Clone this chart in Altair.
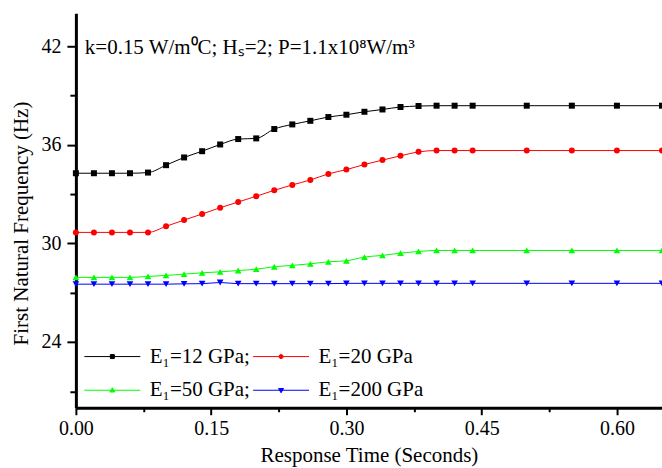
import altair as alt
import pandas as pd

# Response time (s)
times = [0.00, 0.02, 0.04, 0.06, 0.08, 0.10, 0.12, 0.14, 0.16, 0.18, 0.20, 0.22,
         0.24, 0.26, 0.28, 0.30, 0.32, 0.34, 0.36, 0.38, 0.40, 0.42, 0.44,
         0.50, 0.55, 0.60, 0.65]

freq_12 = [34.27, 34.27, 34.27, 34.27, 34.31, 34.76, 35.23, 35.61, 36.02, 36.35, 36.39, 36.96,
           37.24, 37.46, 37.69, 37.83, 38.01, 38.15, 38.30, 38.36, 38.38, 38.38, 38.38,
           38.38, 38.38, 38.38, 38.38]
freq_20 = [30.67, 30.67, 30.67, 30.67, 30.67, 31.04, 31.42, 31.79, 32.17, 32.52, 32.87, 33.23,
           33.56, 33.86, 34.23, 34.49, 34.80, 35.07, 35.33, 35.57, 35.65, 35.65, 35.65,
           35.65, 35.65, 35.65, 35.65]
freq_50 = [27.93, 27.93, 27.93, 27.93, 27.99, 28.05, 28.13, 28.21, 28.27, 28.35, 28.43, 28.58,
           28.66, 28.76, 28.88, 28.94, 29.17, 29.27, 29.41, 29.51, 29.57, 29.57, 29.57,
           29.57, 29.57, 29.57, 29.57]
freq_200 = [27.52, 27.52, 27.52, 27.52, 27.52, 27.52, 27.54, 27.55, 27.62, 27.55, 27.55, 27.55,
            27.55, 27.55, 27.55, 27.57, 27.57, 27.57, 27.57, 27.57, 27.57, 27.57, 27.57,
            27.57, 27.57, 27.57, 27.57]

series_names = ["E\u2081=12 GPa;", "E\u2081=20 GPa", "E\u2081=50 GPa;", "E\u2081=200 GPa"]
series_colors = ["#000000", "#ff0000", "#00ff00", "#0000ff"]
series_shapes = ["square", "circle", "triangle-up", "triangle-down"]
series_sizes = [36, 36, 45, 45]

legend_paths = [
    "M-5.6,0L5.6,0M-0.4,-0.4L0.4,-0.4L0.4,0.4L-0.4,0.4Z",
    "M-5.6,0L5.6,0M-0.42,0L-0.3,-0.3L0,-0.42L0.3,-0.3L0.42,0L0.3,0.3L0,0.42L-0.3,0.3Z",
    "M-5.6,0L5.6,0M0,-0.5L0.5,0.35L-0.5,0.35Z",
    "M-5.6,0L5.6,0M0,0.5L0.5,-0.35L-0.5,-0.35Z",
]

annotation = "k=0.15 W/m\u2070C; H\u209b=2; P=1.1x10\u2078W/m\u00b3"

x_ticks = [0.0, 0.075, 0.15, 0.225, 0.30, 0.375, 0.45, 0.525, 0.60]
y_ticks = [21, 24, 27, 30, 33, 36, 39, 42]

rows = []
for name, vals in zip(series_names, [freq_12, freq_20, freq_50, freq_200]):
    for t, v in zip(times, vals):
        rows.append({"time": t, "freq": v, "series": name})
df = pd.DataFrame(rows)

FONT = "Liberation Serif"

x_enc = alt.X(
    "time:Q",
    scale=alt.Scale(domain=[0, 0.65], nice=False, zero=False),
    axis=alt.Axis(
        title="Response Time (Seconds)",
        values=x_ticks,
        labelExpr="abs(datum.value/0.15 - round(datum.value/0.15)) < 0.01 ? format(datum.value, '.2f') : ''",
        tickSize={"condition": {"test": "abs(datum.value/0.15 - round(datum.value/0.15)) < 0.01", "value": 7}, "value": 4},
        labelFlush=False,
        labelPadding=4,
        titlePadding=6,
    ),
)
y_enc = alt.Y(
    "freq:Q",
    scale=alt.Scale(domain=[20, 44], nice=False, zero=False),
    axis=alt.Axis(
        title="First Natural Frequency (Hz)",
        values=y_ticks,
        labelExpr="datum.value % 6 === 0 ? format(datum.value, 'd') : ''",
        tickSize={"condition": {"test": "datum.value % 6 === 0", "value": 9}, "value": 6},
        labelFlush=False,
        labelPadding=6,
        titlePadding=9,
        titleY=210,
    ),
)

base = alt.Chart(df)

leg = alt.Legend(
    title=None,
    orient="none",
    direction="horizontal",
    legendX=26,
    legendY=333,
    columns=2,
    columnPadding=0,
    rowPadding=12,
    symbolSize=100,
    symbolStrokeWidth=1,
    labelFont=FONT,
    labelFontSize=21,
    labelColor="black",
    labelOffset=27,
    padding=0,
)

# near-zero-size marks that only carry the legend (line + marker symbols)
legend_layer = base.mark_point(filled=True, opacity=1, strokeWidth=1, size=0.0001).encode(
    x=x_enc,
    y=y_enc,
    fill=alt.Fill("series:N", scale=alt.Scale(domain=series_names, range=series_colors), legend=leg),
    stroke=alt.Stroke("series:N", scale=alt.Scale(domain=series_names, range=series_colors), legend=leg),
    shape=alt.Shape("series:N", scale=alt.Scale(domain=series_names, range=legend_paths), legend=leg),
)

line_layers = []
point_layers = []
for name, col, shp, sz in zip(series_names, series_colors, series_shapes, series_sizes):
    sub = base.transform_filter(alt.datum.series == name)
    line_layers.append(
        sub.mark_line(strokeWidth=1, interpolate="monotone", color=col)
        .encode(x="time:Q", y="freq:Q")
    )
    point_layers.append(
        sub.mark_point(filled=True, shape=shp, size=sz, color=col, opacity=1)
        .encode(x="time:Q", y="freq:Q")
    )

text_layer = alt.Chart(pd.DataFrame({"label": [annotation]})).mark_text(
    align="left", baseline="alphabetic", font=FONT, fontSize=21, color="black"
).encode(text="label:N", x=alt.value(9), y=alt.value(41))

chart = alt.layer(legend_layer, *line_layers, *point_layers, text_layer).properties(
    width=587,
    height=395,
    autosize=alt.AutoSizeParams(type="none"),
    padding={"left": 76, "top": 13, "right": 0, "bottom": 60},
).configure_view(stroke=None).configure_axis(
    labelFont=FONT,
    titleFont=FONT,
    labelFontSize=20,
    titleFontSize=21,
    titleFontWeight="normal",
    labelColor="black",
    titleColor="black",
    domainColor="black",
    domainWidth=3,
    tickColor="black",
    tickWidth=2,
    grid=False,
)

chart.save("out.html", embed_options={"renderer": "svg", "actions": False})
